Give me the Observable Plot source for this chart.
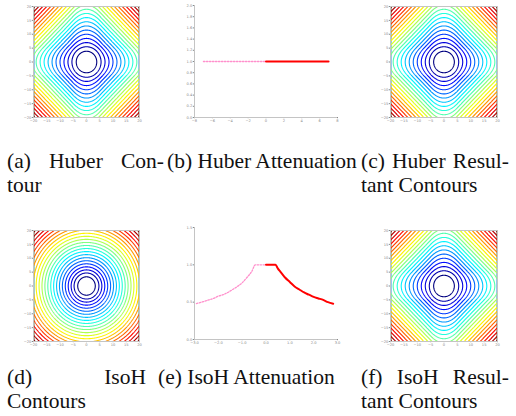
<!DOCTYPE html>
<html><head><meta charset="utf-8">
<script src="https://cdn.jsdelivr.net/npm/d3@7"></script>
<script src="https://cdn.jsdelivr.net/npm/@observablehq/plot@0.6"></script>
<style>
body{margin:0;background:#fff;}
#root{position:relative;width:516px;height:416px;overflow:hidden;background:#fff;}
.p{position:absolute;}
.cap{position:absolute;font-family:"Liberation Serif","Times New Roman",serif;font-size:21.5px;line-height:24px;color:#111;white-space:nowrap;}
.just{text-align:justify;text-align-last:justify;white-space:normal;}
</style></head>
<body><div id="root"></div>
<script>
// ---- data ----
const contourTicks = [-20, -15, -10, -5, 0, 5, 10, 15, 20];
const huberK = [5];
const huberLevels = [7.5, 15, 22.5, 30, 37.5, 45, 52.5, 60, 67.5, 75, 82.5, 90, 97.5, 105, 112.5, 120, 127.5, 135, 142.5, 150, 157.5, 165, 172.5];
const isoLevels = [5.5, 11, 16.5, 22, 27.5, 33, 38.5, 44, 49.5, 55, 60.5, 66, 71.5, 77, 82.5, 88, 93.5, 99, 104.5, 110, 115.5, 121, 126.5];

const hubAttTicksX = [-8, -6, -4, -2, 0, 2, 4, 6, 8];
const hubAttTicksY = [0, 0.2, 0.4, 0.6, 0.8, 1, 1.2, 1.4, 1.6, 1.8, 2];
const hubNegX = [-7, 0];
const hubNegY = [1, 1];
const hubPosX = [0, 7];
const hubPosY = [1, 1];

const isoAttTicksX = [-3, -2, -1, 0, 1, 2, 3];
const isoAttTicksY = [0, 0.5, 1, 1.5];
const isoNegX = [-2.92, -2.6, -2.4, -2.2, -2.0, -1.8, -1.6, -1.4, -1.2, -1.0, -0.8, -0.6, -0.45, -0.2, 0];
const isoNegY = [0.48, 0.51, 0.53, 0.55, 0.58, 0.60, 0.63, 0.67, 0.71, 0.76, 0.83, 0.91, 1, 1, 1];
const isoPosX = [0, 0.4, 0.5, 0.6, 0.7, 0.8, 1.0, 1.2, 1.4, 1.6, 1.8, 2.0, 2.2, 2.4, 2.6, 2.82];
const isoPosY = [1, 1, 0.95, 0.91, 0.87, 0.83, 0.77, 0.71, 0.67, 0.63, 0.60, 0.57, 0.55, 0.53, 0.50, 0.48];

// ---- helpers ----
const root = document.getElementById("root");
const clamp = v => Math.max(0, Math.min(1, v));
const jet = t => {
  const r = clamp(Math.min(4*t - 1.5, -4*t + 4.5));
  const g = clamp(Math.min(4*t - 0.5, -4*t + 3.5));
  const b = clamp(Math.min(4*t + 0.5, -4*t + 2.5));
  return `rgb(${Math.round(r*255)},${Math.round(g*255)},${Math.round(b*255)})`;
};
const rho = t => { const k = huberK[0]; const a = Math.abs(t); return a <= k ? a*a/2 : k*(a - k/2); };
const huber = (x, y) => rho(x) + rho(y);
const isoH = (x, y) => rho(Math.hypot(x, y));

const M = {l: 12, r: 3, t: 3, b: 8};
const style = {fontSize: "3.6px", fontFamily: "DejaVu Sans", background: "transparent", overflow: "visible", color: "#888"};

function place(svg, left, top) {
  svg.classList.add("p");
  svg.style.left = (left - M.l) + "px";
  svg.style.top = (top - M.t) + "px";
  root.appendChild(svg);
}

function contourPanel(fn, levels, x0, y0, x1, y1) {
  const svg = Plot.plot({
    width: (x1 - x0) + M.l + M.r, height: (y1 - y0) + M.t + M.b,
    marginLeft: M.l, marginRight: M.r, marginTop: M.t, marginBottom: M.b,
    style,
    x: {domain: [-20, 20], ticks: contourTicks, tickSize: 1.2, tickPadding: 1, label: null},
    y: {domain: [-20, 20], ticks: contourTicks, tickSize: 1.2, tickPadding: 1, label: null},
    color: {type: "linear", domain: [levels[0], levels[levels.length - 1]], interpolate: jet},
    marks: [
      Plot.contour({x1: -20, x2: 20, y1: -20, y2: 20, value: fn, thresholds: levels,
        fill: "none", stroke: "value", strokeWidth: 1.1, pixelSize: 0.5, clip: true}),
      Plot.frame({stroke: "#c4c4c4", strokeWidth: 1})
    ]
  });
  place(svg, x0, y0);
}

function attPanel(xd, yd, tx, ty, negX, negY, posX, posY, x0, y0, x1, y1) {
  const neg = negX.map((x, i) => ({x, y: negY[i]}));
  const pos = posX.map((x, i) => ({x, y: posY[i]}));
  const svg = Plot.plot({
    width: (x1 - x0) + M.l + M.r, height: (y1 - y0) + M.t + M.b,
    marginLeft: M.l, marginRight: M.r, marginTop: M.t, marginBottom: M.b,
    style,
    x: {domain: xd, ticks: tx, tickSize: 1.2, tickPadding: 1, label: null},
    y: {domain: yd, ticks: ty, tickSize: 1.2, tickPadding: 1, label: null},
    marks: [
      Plot.ruleX([xd[0]], {stroke: "#c4c4c4"}),
      Plot.ruleY([yd[0]], {stroke: "#c4c4c4"}),
      Plot.line(neg, {x: "x", y: "y", stroke: "#ff90cc", strokeWidth: 1.3, strokeDasharray: "1.5,1.5", curve: "monotone-x"}),
      Plot.line(pos, {x: "x", y: "y", stroke: "#ff0000", strokeWidth: 2, curve: "monotone-x"})
    ]
  });
  place(svg, x0, y0);
}

contourPanel(huber, huberLevels, 33, 6, 139, 117);
attPanel([-8, 8], [0, 2], hubAttTicksX, hubAttTicksY, hubNegX, hubNegY, hubPosX, hubPosY, 194, 5, 337, 117);
contourPanel(huber, huberLevels, 390, 6, 497, 117);
contourPanel(isoH, isoLevels, 33, 230, 139, 341);
attPanel([-3, 3], [0, 1.5], isoAttTicksX, isoAttTicksY, isoNegX, isoNegY, isoPosX, isoPosY, 194, 227, 337, 339);
contourPanel(huber, huberLevels, 390, 230, 497, 341);

// ---- captions ----
const caps = [
  {t: "(a) Huber Con-", x: 7, y: 149, w: 157},
  {t: "(b) Huber Attenuation", x: 167, y: 149},
  {t: "(c) Huber Resul-", x: 361, y: 149, w: 148},
  {t: "tour", x: 7, y: 173},
  {t: "tant Contours", x: 361, y: 173},
  {t: "(d) IsoH", x: 7, y: 365, w: 139},
  {t: "(e) IsoH Attenuation", x: 158, y: 365},
  {t: "(f) IsoH Resul-", x: 361, y: 365, w: 148},
  {t: "Contours", x: 7, y: 389},
  {t: "tant Contours", x: 361, y: 389}
];
for (const c of caps) {
  const d = document.createElement("div");
  d.className = "cap" + (c.w ? " just" : "");
  d.textContent = c.t;
  d.style.left = c.x + "px";
  d.style.top = c.y + "px";
  if (c.w) d.style.width = c.w + "px";
  root.appendChild(d);
}
</script></body></html>
